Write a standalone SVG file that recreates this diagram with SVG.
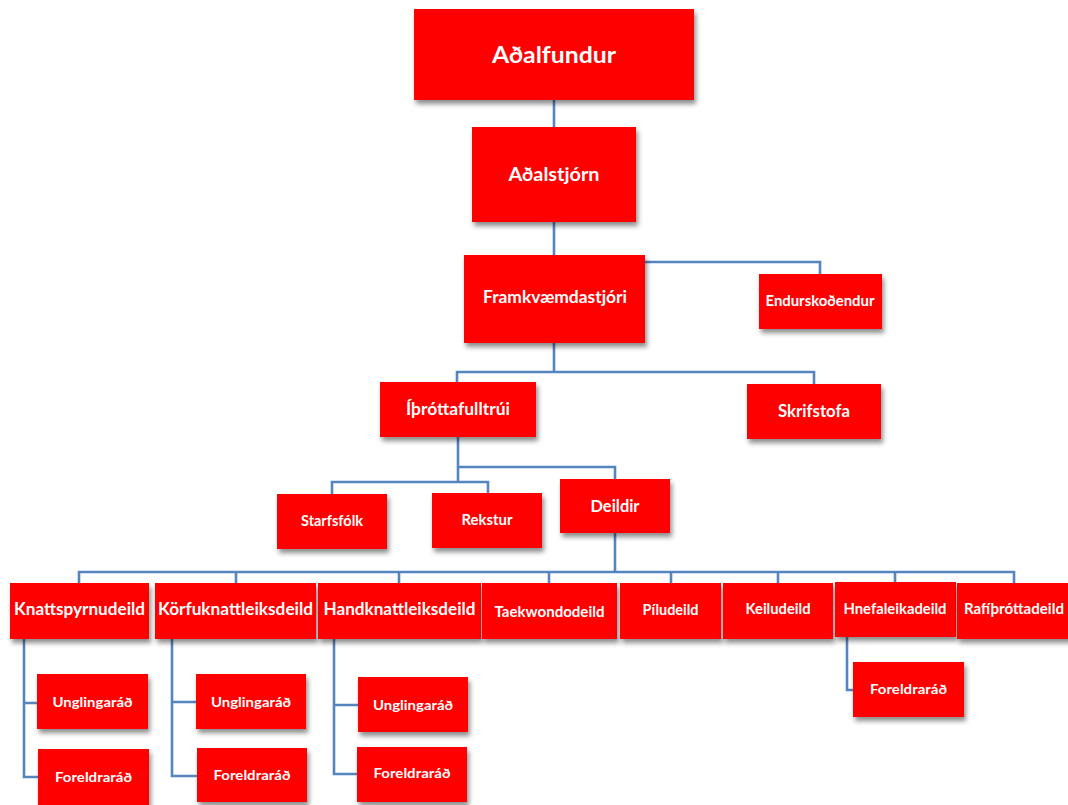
<svg xmlns="http://www.w3.org/2000/svg" width="1068" height="805" viewBox="0 0 1068 805">
<defs>
<filter id="sh" x="-10%" y="-10%" width="130%" height="140%">
<feDropShadow dx="2" dy="4" stdDeviation="2.5" flood-color="#000" flood-opacity="0.45"/>
</filter>
<style>
.box{fill:#ff0000;filter:url(#sh)}
.t{fill:#fff;font-family:Lato,"Open Sans","Liberation Sans",sans-serif;font-weight:bold;text-anchor:middle}
.c{fill:none;stroke:#5585bf;stroke-width:2.6}
</style>
</defs>
<rect width="1068" height="805" fill="#fff"/>
<g id="connectors">
<path class="c" d="M554 100V127M554 222V255M645 262H820V274M554 343V372M457 382V372H814V384M458 437V482M332 494V482H488V493M458 467H615V479M615 533V572M79 584V572H1014V583M236 572V583M399 572V583M549 572V583M671 572V583M778 572V583M895 572V582M24 639V777H38M24 703H37M172 639V776H197M172 702H196M334 639V774H357M334 705H358M847 637V690H853"/>
</g>
<g id="adalfundur"><rect class="box" x="414" y="9" width="280" height="91"/><text class="t" x="554" y="63" font-size="23" textLength="124" lengthAdjust="spacingAndGlyphs">Aðalfundur</text></g>
<g id="adalstjorn"><rect class="box" x="472" y="127" width="164" height="95"/><text class="t" x="554" y="181" font-size="18.5" textLength="91" lengthAdjust="spacingAndGlyphs">Aðalstjórn</text></g>
<g id="framkvaemdastjori"><rect class="box" x="464" y="255" width="181" height="88"/><text class="t" x="555" y="303" font-size="16.5" textLength="144" lengthAdjust="spacingAndGlyphs">Framkvæmdastjóri</text></g>
<g id="endurskodendur"><rect class="box" x="759" y="274" width="123" height="55"/><text class="t" x="820" y="306" font-size="14.5" textLength="109" lengthAdjust="spacingAndGlyphs">Endurskoðendur</text></g>
<g id="ithrottafulltrui"><rect class="box" x="380" y="382" width="156" height="55"/><text class="t" x="458" y="415" font-size="16.5" textLength="104" lengthAdjust="spacingAndGlyphs">Íþróttafulltrúi</text></g>
<g id="skrifstofa"><rect class="box" x="747" y="384" width="134" height="55"/><text class="t" x="814" y="417" font-size="16.5" textLength="72" lengthAdjust="spacingAndGlyphs">Skrifstofa</text></g>
<g id="starfsfolk"><rect class="box" x="277" y="494" width="110" height="55"/><text class="t" x="332" y="526" font-size="14.5" textLength="62" lengthAdjust="spacingAndGlyphs">Starfsfólk</text></g>
<g id="rekstur"><rect class="box" x="432" y="493" width="110" height="55"/><text class="t" x="487" y="525" font-size="14.5" textLength="51" lengthAdjust="spacingAndGlyphs">Rekstur</text></g>
<g id="deildir"><rect class="box" x="560" y="479" width="110" height="54"/><text class="t" x="615" y="512" font-size="17.5" textLength="49" lengthAdjust="spacingAndGlyphs">Deildir</text></g>
<g id="knattspyrnudeild"><rect class="box" x="10" y="583" width="139" height="56"/><text class="t" x="79.5" y="615" font-size="16.5" textLength="131" lengthAdjust="spacingAndGlyphs">Knattspyrnudeild</text></g>
<g id="korfuknattleiksdeild"><rect class="box" x="155" y="583" width="161" height="56"/><text class="t" x="235.5" y="615" font-size="16.5" textLength="155" lengthAdjust="spacingAndGlyphs">Körfuknattleiksdeild</text></g>
<g id="handknattleiksdeild"><rect class="box" x="318" y="583" width="163" height="56"/><text class="t" x="399.5" y="615" font-size="16.5" textLength="152" lengthAdjust="spacingAndGlyphs">Handknattleiksdeild</text></g>
<g id="taekwondodeild"><rect class="box" x="482" y="583" width="135" height="56"/><text class="t" x="549.5" y="617" font-size="14.5" textLength="110" lengthAdjust="spacingAndGlyphs">Taekwondodeild</text></g>
<g id="piludeild"><rect class="box" x="620" y="583" width="101" height="56"/><text class="t" x="670.5" y="615" font-size="14.5" textLength="56" lengthAdjust="spacingAndGlyphs">Píludeild</text></g>
<g id="keiludeild"><rect class="box" x="723" y="583" width="110" height="56"/><text class="t" x="778" y="614" font-size="14.5" textLength="65" lengthAdjust="spacingAndGlyphs">Keiludeild</text></g>
<g id="hnefaleikadeild"><rect class="box" x="835" y="582" width="121" height="55"/><text class="t" x="895" y="614" font-size="14.5" textLength="103" lengthAdjust="spacingAndGlyphs">Hnefaleikadeild</text></g>
<g id="rafithrottadeild"><rect class="box" x="957" y="583" width="114" height="56"/><text class="t" x="1014" y="614" font-size="14.5" textLength="100" lengthAdjust="spacingAndGlyphs">Rafíþróttadeild</text></g>
<g id="unglingarad1"><rect class="box" x="37" y="674" width="111" height="55"/><text class="t" x="92.5" y="707" font-size="14" textLength="80" lengthAdjust="spacingAndGlyphs">Unglingaráð</text></g>
<g id="foreldrarad1"><rect class="box" x="38" y="749" width="111" height="60"/><text class="t" x="93.5" y="782" font-size="14" textLength="77" lengthAdjust="spacingAndGlyphs">Foreldraráð</text></g>
<g id="unglingarad2"><rect class="box" x="196" y="674" width="110" height="55"/><text class="t" x="251" y="707" font-size="14" textLength="80" lengthAdjust="spacingAndGlyphs">Unglingaráð</text></g>
<g id="foreldrarad2"><rect class="box" x="197" y="748" width="110" height="54"/><text class="t" x="252" y="780" font-size="14" textLength="77" lengthAdjust="spacingAndGlyphs">Foreldraráð</text></g>
<g id="unglingarad3"><rect class="box" x="358" y="677" width="110" height="55"/><text class="t" x="413" y="710" font-size="14" textLength="80" lengthAdjust="spacingAndGlyphs">Unglingaráð</text></g>
<g id="foreldrarad3"><rect class="box" x="357" y="747" width="110" height="55"/><text class="t" x="412" y="778" font-size="14" textLength="77" lengthAdjust="spacingAndGlyphs">Foreldraráð</text></g>
<g id="foreldrarad4"><rect class="box" x="853" y="662" width="111" height="55"/><text class="t" x="908.5" y="694" font-size="14" textLength="77" lengthAdjust="spacingAndGlyphs">Foreldraráð</text></g>
</svg>
